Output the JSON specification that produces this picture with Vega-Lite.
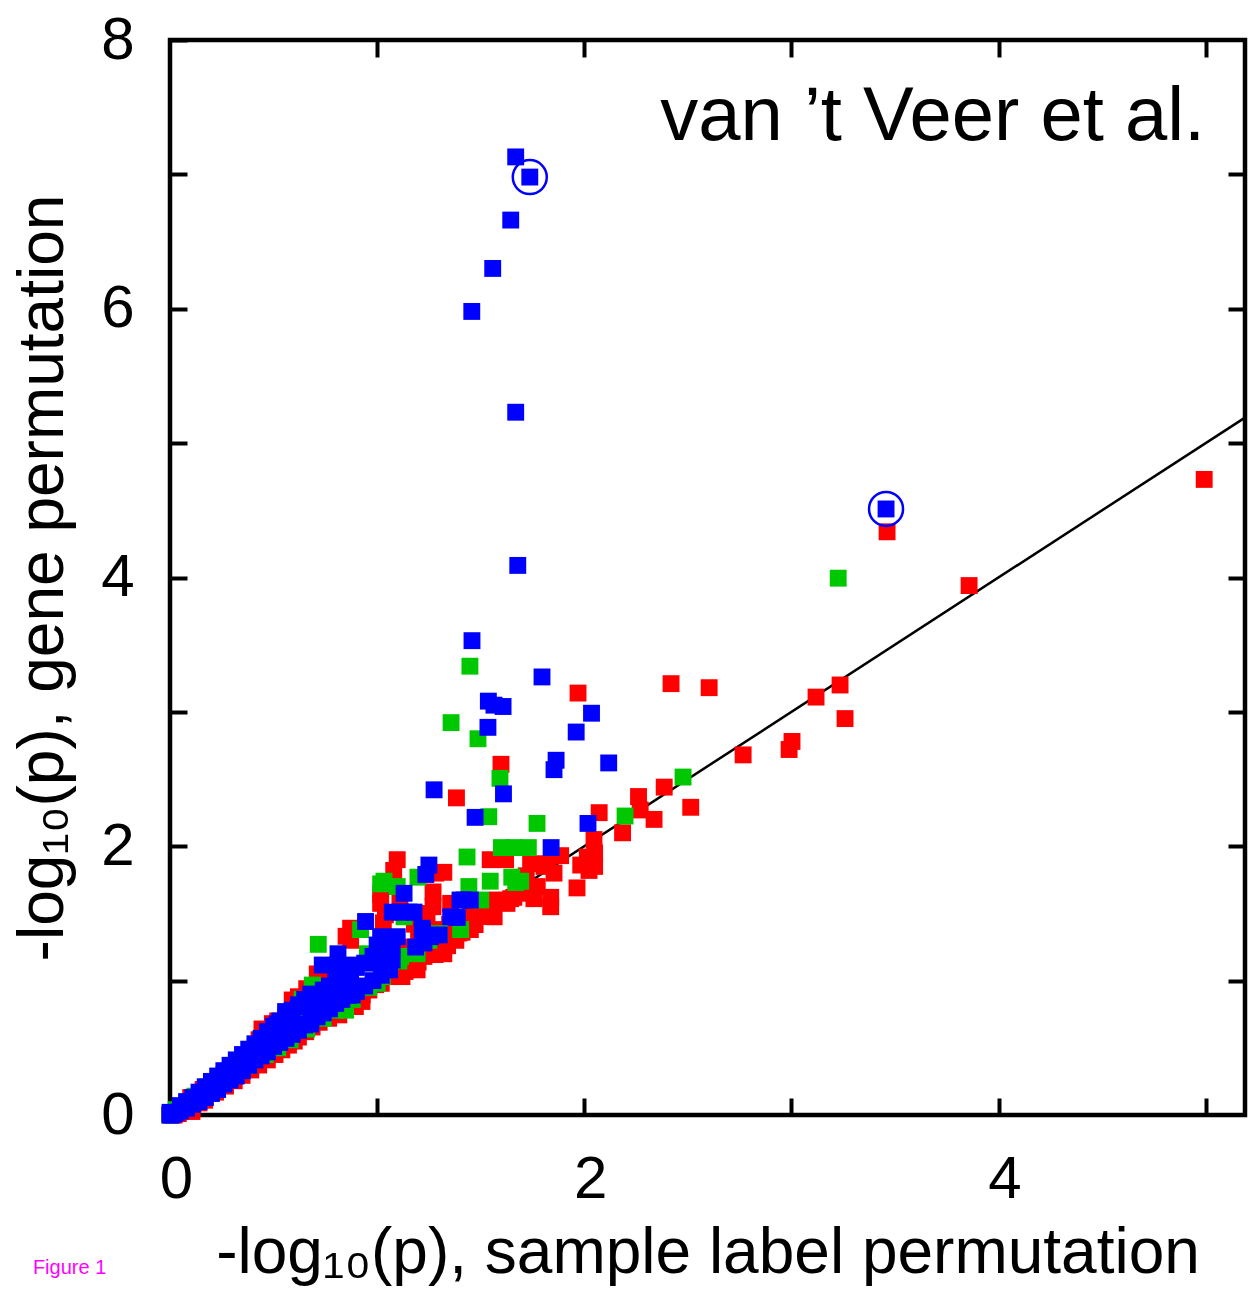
{
  "$schema": "https://vega.github.io/schema/vega-lite/v6.json",
  "autosize": {"type": "none"},
  "padding": {"left": 170, "top": 40, "right": 3, "bottom": 179},
  "width": 1075,
  "height": 1075,
  "background": "white",
  "config": {
    "view": {"stroke": "black", "strokeWidth": 4.5},
    "axis": {"grid": false, "domain": false, "labelFont": "Liberation Sans", "titleFont": "Liberation Sans", "labelColor": "black", "titleColor": "black", "tickColor": "black", "titleFontWeight": "normal"}
  },
  "datasets": {
    "pts": [
      {"x":0,"y":0,"set":"a"},{"x":0.02,"y":0,"set":"a"},{"x":0.04,"y":0.01,"set":"a"},{"x":0.06,"y":0.03,"set":"a"},{"x":0.08,"y":0.04,"set":"a"},{"x":0.106,"y":0.05,"set":"a"},{"x":0.106,"y":0.026,"set":"a"},{"x":0.14,"y":0.09,"set":"a"},{"x":0.167,"y":0.11,"set":"a"},{"x":0.171,"y":0.13,"set":"a"},{"x":0.22,"y":0.17,"set":"a"},{"x":0.268,"y":0.215,"set":"a"},{"x":0.31,"y":0.255,"set":"a"},{"x":0.348,"y":0.295,"set":"a"},{"x":0.39,"y":0.335,"set":"a"},{"x":0.428,"y":0.372,"set":"a"},{"x":0.47,"y":0.41,"set":"a"},{"x":0.507,"y":0.45,"set":"a"},{"x":0.54,"y":0.485,"set":"a"},{"x":0.572,"y":0.52,"set":"a"},{"x":0.6,"y":0.55,"set":"a"},{"x":0.62,"y":0.58,"set":"a"},{"x":0.655,"y":0.62,"set":"a"},{"x":0.686,"y":0.655,"set":"a"},{"x":0.72,"y":0.69,"set":"a"},{"x":0.766,"y":0.72,"set":"a"},{"x":0.8,"y":0.76,"set":"a"},{"x":0.815,"y":0.745,"set":"a"},{"x":0.83,"y":0.795,"set":"a"},{"x":0.88,"y":0.85,"set":"a"},{"x":0.895,"y":0.807,"set":"a"},{"x":0.928,"y":0.895,"set":"a"},{"x":0.927,"y":0.845,"set":"a"},{"x":0.96,"y":0.93,"set":"a"},{"x":0.993,"y":0.97,"set":"a"},{"x":1.02,"y":0.98,"set":"a"},{"x":1.056,"y":1.03,"set":"a"},{"x":1.12,"y":1.03,"set":"a"},{"x":1.135,"y":1.068,"set":"a"},{"x":1.193,"y":1.08,"set":"a"},{"x":1.198,"y":1.138,"set":"a"},{"x":1.162,"y":1.13,"set":"a"},{"x":1.226,"y":1.18,"set":"a"},{"x":1.258,"y":1.2,"set":"a"},{"x":1.28,"y":1.194,"set":"a"},{"x":1.29,"y":1.23,"set":"a"},{"x":1.322,"y":1.2,"set":"a"},{"x":1.32,"y":1.28,"set":"a"},{"x":1.315,"y":1.25,"set":"a"},{"x":1.315,"y":1.35,"set":"a"},{"x":1.34,"y":1.26,"set":"a"},{"x":1.38,"y":1.3,"set":"a"},{"x":1.394,"y":1.354,"set":"a"},{"x":1.41,"y":1.36,"set":"a"},{"x":1.45,"y":1.38,"set":"a"},{"x":1.473,"y":1.417,"set":"a"},{"x":1.507,"y":1.477,"set":"a"},{"x":1.565,"y":1.475,"set":"a"},
      {"x":0.1,"y":0.13,"set":"a"},{"x":0.16,"y":0.19,"set":"a"},{"x":0.24,"y":0.27,"set":"a"},{"x":0.3,"y":0.35,"set":"a"},{"x":0.365,"y":0.41,"set":"a"},{"x":0.43,"y":0.56,"set":"a"},{"x":0.444,"y":0.64,"set":"a"},{"x":0.47,"y":0.6,"set":"a"},{"x":0.494,"y":0.68,"set":"a"},{"x":0.52,"y":0.7,"set":"a"},{"x":0.59,"y":0.856,"set":"a"},{"x":0.62,"y":0.88,"set":"a"},{"x":0.66,"y":0.94,"set":"a"},{"x":0.711,"y":1.05,"set":"a"},{"x":0.76,"y":1.05,"set":"a"},{"x":0.85,"y":1.33,"set":"a"},{"x":0.872,"y":1.3,"set":"a"},{"x":0.872,"y":1.39,"set":"a"},{"x":1.017,"y":1.644,"set":"a"},{"x":1.017,"y":1.575,"set":"a"},{"x":1.03,"y":1.43,"set":"a"},{"x":1.04,"y":1.49,"set":"a"},{"x":1.05,"y":1.12,"set":"a"},{"x":1.08,"y":1.82,"set":"a"},{"x":1.097,"y":1.9,"set":"a"},{"x":1.1,"y":1.2,"set":"a"},{"x":1.11,"y":1.6,"set":"a"},{"x":1.15,"y":1.25,"set":"a"},{"x":1.18,"y":1.42,"set":"a"},{"x":1.2,"y":1.3,"set":"a"},{"x":1.22,"y":1.5,"set":"a"},{"x":1.24,"y":1.45,"set":"a"},{"x":1.24,"y":1.475,"set":"a"},{"x":1.25,"y":1.32,"set":"a"},{"x":1.27,"y":1.55,"set":"a"},{"x":1.27,"y":1.66,"set":"a"},{"x":1.3,"y":1.38,"set":"a"},{"x":1.322,"y":1.806,"set":"a"},{"x":1.283,"y":1.8,"set":"a"},{"x":1.35,"y":1.42,"set":"a"},{"x":1.355,"y":1.575,"set":"a"},{"x":1.383,"y":2.36,"set":"a"},{"x":1.4,"y":1.47,"set":"a"},{"x":1.45,"y":1.5,"set":"a"},{"x":1.46,"y":1.44,"set":"a"},{"x":1.5,"y":1.55,"set":"a"},{"x":1.52,"y":1.52,"set":"a"},{"x":1.546,"y":1.9,"set":"a"},{"x":1.548,"y":1.5,"set":"a"},{"x":1.56,"y":1.56,"set":"a"},{"x":1.58,"y":1.6,"set":"a"},{"x":1.598,"y":2.61,"set":"a"},{"x":1.6,"y":1.58,"set":"a"},{"x":1.62,"y":1.9,"set":"a"},{"x":1.627,"y":1.575,"set":"a"},{"x":1.645,"y":1.61,"set":"a"},{"x":1.66,"y":1.62,"set":"a"},{"x":1.68,"y":1.72,"set":"a"},{"x":1.7,"y":1.65,"set":"a"},{"x":1.72,"y":1.78,"set":"a"},{"x":1.741,"y":1.87,"set":"a"},{"x":1.757,"y":1.61,"set":"a"},{"x":1.773,"y":1.7,"set":"a"},{"x":1.806,"y":1.85,"set":"a"},{"x":1.822,"y":1.87,"set":"a"},{"x":1.838,"y":1.55,"set":"a"},{"x":1.838,"y":1.62,"set":"a"},{"x":1.854,"y":1.8,"set":"a"},{"x":1.886,"y":1.93,"set":"a"},{"x":1.965,"y":1.69,"set":"a"},{"x":1.97,"y":3.14,"set":"a"},{"x":1.983,"y":1.86,"set":"a"},{"x":2.015,"y":1.92,"set":"a"},{"x":2.023,"y":1.82,"set":"a"},{"x":2.047,"y":2.05,"set":"a"},{"x":2.05,"y":1.95,"set":"a"},{"x":2.05,"y":1.85,"set":"a"},{"x":2.072,"y":2.25,"set":"a"},{"x":2.185,"y":2.1,"set":"a"},{"x":2.262,"y":2.37,"set":"a"},{"x":2.27,"y":2.27,"set":"a"},{"x":2.337,"y":2.2,"set":"a"},{"x":2.386,"y":2.44,"set":"a"},{"x":2.419,"y":3.21,"set":"a"},{"x":2.514,"y":2.29,"set":"a"},{"x":2.603,"y":3.18,"set":"a"},{"x":2.767,"y":2.68,"set":"a"},{"x":2.989,"y":2.72,"set":"a"},{"x":3.003,"y":2.78,"set":"a"},{"x":3.119,"y":3.11,"set":"a"},{"x":3.235,"y":3.2,"set":"a"},{"x":3.259,"y":2.95,"set":"a"},{"x":3.462,"y":4.34,"set":"a"},{"x":3.858,"y":3.94,"set":"a"},{"x":4.993,"y":4.73,"set":"a"},
      {"x":0,"y":0,"set":"b"},{"x":0.03,"y":0.04,"set":"b"},{"x":0.06,"y":0.06,"set":"b"},{"x":0.09,"y":0.09,"set":"b"},{"x":0.12,"y":0.14,"set":"b"},{"x":0.15,"y":0.13,"set":"b"},{"x":0.18,"y":0.21,"set":"b"},{"x":0.22,"y":0.21,"set":"b"},{"x":0.26,"y":0.3,"set":"b"},{"x":0.3,"y":0.29,"set":"b"},{"x":0.34,"y":0.39,"set":"b"},{"x":0.38,"y":0.37,"set":"b"},{"x":0.42,"y":0.47,"set":"b"},{"x":0.46,"y":0.45,"set":"b"},{"x":0.5,"y":0.56,"set":"b"},{"x":0.52,"y":0.5,"set":"b"},{"x":0.56,"y":0.64,"set":"b"},{"x":0.58,"y":0.56,"set":"b"},{"x":0.62,"y":0.72,"set":"b"},{"x":0.638,"y":0.861,"set":"b"},{"x":0.66,"y":0.64,"set":"b"},{"x":0.687,"y":0.967,"set":"b"},{"x":0.7,"y":0.8,"set":"b"},{"x":0.716,"y":1.27,"set":"b"},{"x":0.74,"y":0.72,"set":"b"},{"x":0.78,"y":0.88,"set":"b"},{"x":0.8,"y":0.78,"set":"b"},{"x":0.848,"y":0.78,"set":"b"},{"x":0.86,"y":0.95,"set":"b"},{"x":0.88,"y":0.86,"set":"b"},{"x":0.92,"y":1.38,"set":"b"},{"x":0.953,"y":1.2,"set":"b"},{"x":0.96,"y":0.95,"set":"b"},{"x":1.0,"y":0.98,"set":"b"},{"x":1.025,"y":1.03,"set":"b"},{"x":1.033,"y":1.74,"set":"b"},{"x":1.017,"y":1.72,"set":"b"},{"x":1.097,"y":1.7,"set":"b"},{"x":1.105,"y":1.146,"set":"b"},{"x":1.113,"y":1.18,"set":"b"},{"x":1.13,"y":1.475,"set":"b"},{"x":1.186,"y":1.22,"set":"b"},{"x":1.193,"y":1.2,"set":"b"},{"x":1.197,"y":1.77,"set":"b"},{"x":1.25,"y":1.3,"set":"b"},{"x":1.3,"y":1.35,"set":"b"},{"x":1.357,"y":2.92,"set":"b"},{"x":1.403,"y":1.38,"set":"b"},{"x":1.434,"y":1.92,"set":"b"},{"x":1.443,"y":1.7,"set":"b"},{"x":1.448,"y":3.34,"set":"b"},{"x":1.487,"y":2.8,"set":"b"},{"x":1.5,"y":1.6,"set":"b"},{"x":1.539,"y":2.22,"set":"b"},{"x":1.546,"y":1.74,"set":"b"},{"x":1.593,"y":2.505,"set":"b"},{"x":1.6,"y":1.99,"set":"b"},{"x":1.65,"y":1.77,"set":"b"},{"x":1.66,"y":1.99,"set":"b"},{"x":1.669,"y":1.73,"set":"b"},{"x":1.693,"y":1.74,"set":"b"},{"x":1.73,"y":1.99,"set":"b"},{"x":1.772,"y":2.17,"set":"b"},{"x":2.197,"y":2.225,"set":"b"},{"x":2.477,"y":2.515,"set":"b"},{"x":3.226,"y":3.995,"set":"b"},
      {"x":0,"y":0,"set":"c"},{"x":0.01,"y":0,"set":"c"},{"x":0.02,"y":0.01,"set":"c"},{"x":0,"y":0.02,"set":"c"},{"x":0.03,"y":0.02,"set":"c"},{"x":0.05,"y":0.03,"set":"c"},{"x":0.05,"y":0.07,"set":"c"},{"x":0.08,"y":0.05,"set":"c"},{"x":0.08,"y":0.1,"set":"c"},{"x":0.11,"y":0.08,"set":"c"},{"x":0.11,"y":0.13,"set":"c"},{"x":0.14,"y":0.1,"set":"c"},{"x":0.14,"y":0.17,"set":"c"},{"x":0.17,"y":0.13,"set":"c"},{"x":0.17,"y":0.21,"set":"c"},{"x":0.2,"y":0.16,"set":"c"},{"x":0.2,"y":0.25,"set":"c"},{"x":0.23,"y":0.19,"set":"c"},{"x":0.23,"y":0.29,"set":"c"},{"x":0.26,"y":0.23,"set":"c"},{"x":0.26,"y":0.33,"set":"c"},{"x":0.29,"y":0.26,"set":"c"},{"x":0.29,"y":0.37,"set":"c"},{"x":0.32,"y":0.29,"set":"c"},{"x":0.32,"y":0.41,"set":"c"},{"x":0.35,"y":0.33,"set":"c"},{"x":0.35,"y":0.45,"set":"c"},{"x":0.38,"y":0.37,"set":"c"},{"x":0.38,"y":0.49,"set":"c"},{"x":0.41,"y":0.41,"set":"c"},{"x":0.41,"y":0.53,"set":"c"},{"x":0.44,"y":0.44,"set":"c"},{"x":0.44,"y":0.57,"set":"c"},{"x":0.47,"y":0.47,"set":"c"},{"x":0.47,"y":0.62,"set":"c"},{"x":0.5,"y":0.51,"set":"c"},{"x":0.5,"y":0.66,"set":"c"},{"x":0.53,"y":0.54,"set":"c"},{"x":0.53,"y":0.7,"set":"c"},{"x":0.56,"y":0.57,"set":"c"},{"x":0.56,"y":0.74,"set":"c"},{"x":0.59,"y":0.6,"set":"c"},{"x":0.59,"y":0.78,"set":"c"},{"x":0.62,"y":0.63,"set":"c"},{"x":0.62,"y":0.82,"set":"c"},{"x":0.65,"y":0.67,"set":"c"},{"x":0.65,"y":0.86,"set":"c"},{"x":0.68,"y":0.7,"set":"c"},{"x":0.68,"y":0.9,"set":"c"},{"x":0.71,"y":0.73,"set":"c"},{"x":0.71,"y":0.88,"set":"c"},{"x":0.74,"y":0.76,"set":"c"},{"x":0.74,"y":0.93,"set":"c"},{"x":0.77,"y":0.79,"set":"c"},{"x":0.77,"y":0.96,"set":"c"},{"x":0.8,"y":0.83,"set":"c"},{"x":0.8,"y":1.0,"set":"c"},{"x":0.83,"y":0.86,"set":"c"},{"x":0.83,"y":1.04,"set":"c"},{"x":0.86,"y":0.89,"set":"c"},{"x":0.86,"y":1.08,"set":"c"},{"x":0.9,"y":0.92,"set":"c"},{"x":0.9,"y":1.1,"set":"c"},{"x":0.94,"y":0.96,"set":"c"},{"x":0.94,"y":1.13,"set":"c"},{"x":0.98,"y":1.0,"set":"c"},{"x":0.98,"y":1.18,"set":"c"},{"x":1.02,"y":1.04,"set":"c"},{"x":1.02,"y":1.15,"set":"c"},{"x":1.06,"y":1.08,"set":"c"},{"x":1.06,"y":1.22,"set":"c"},
      {"x":0.518,"y":0.677,"set":"c"},{"x":0.598,"y":0.677,"set":"c"},{"x":0.679,"y":0.677,"set":"c"},{"x":0.558,"y":0.77,"set":"c"},{"x":0.66,"y":0.806,"set":"c"},{"x":0.735,"y":0.806,"set":"c"},{"x":0.719,"y":0.893,"set":"c"},{"x":0.8,"y":0.893,"set":"c"},{"x":0.88,"y":0.893,"set":"c"},{"x":0.8,"y":0.955,"set":"c"},{"x":0.88,"y":0.955,"set":"c"},{"x":0.872,"y":1.04,"set":"c"},{"x":0.735,"y":1.116,"set":"c"},{"x":0.808,"y":1.116,"set":"c"},{"x":0.872,"y":1.116,"set":"c"},{"x":0.811,"y":1.2,"set":"c"},{"x":0.944,"y":1.44,"set":"c"},{"x":1.0,"y":1.265,"set":"c"},{"x":1.073,"y":1.265,"set":"c"},{"x":1.0,"y":1.153,"set":"c"},{"x":1.073,"y":1.153,"set":"c"},{"x":1.017,"y":1.327,"set":"c"},{"x":1.097,"y":1.327,"set":"c"},{"x":1.017,"y":1.2,"set":"c"},{"x":1.186,"y":1.25,"set":"c"},{"x":0.896,"y":1.1,"set":"c"},{"x":1.025,"y":1.15,"set":"c"},{"x":1.218,"y":1.39,"set":"c"},{"x":1.3,"y":1.34,"set":"c"},{"x":1.226,"y":1.28,"set":"c"},{"x":1.218,"y":1.376,"set":"c"},{"x":1.258,"y":1.327,"set":"c"},{"x":1.355,"y":1.475,"set":"c"},{"x":1.073,"y":1.51,"set":"c"},{"x":1.113,"y":1.51,"set":"c"},{"x":1.154,"y":1.51,"set":"c"},{"x":1.178,"y":1.51,"set":"c"},{"x":1.13,"y":1.65,"set":"c"},{"x":1.235,"y":1.79,"set":"c"},{"x":1.25,"y":1.86,"set":"c"},{"x":1.275,"y":2.42,"set":"c"},{"x":1.387,"y":1.47,"set":"c"},{"x":1.4,"y":1.6,"set":"c"},{"x":1.42,"y":1.6,"set":"c"},{"x":1.45,"y":1.6,"set":"c"},{"x":1.458,"y":3.53,"set":"c"},{"x":1.473,"y":2.215,"set":"c"},{"x":1.457,"y":5.98,"set":"c"},{"x":1.535,"y":2.885,"set":"c"},{"x":1.537,"y":3.08,"set":"c"},{"x":1.558,"y":6.3,"set":"c"},{"x":1.564,"y":3.05,"set":"c"},{"x":1.608,"y":3.04,"set":"c"},{"x":1.61,"y":2.39,"set":"c"},{"x":1.645,"y":6.66,"set":"c"},{"x":1.669,"y":7.13,"set":"c"},{"x":1.669,"y":5.23,"set":"c"},{"x":1.679,"y":4.09,"set":"c"},{"x":1.737,"y":6.98,"set":"c"},{"x":1.796,"y":3.26,"set":"c"},{"x":1.84,"y":1.99,"set":"c"},{"x":1.854,"y":2.57,"set":"c"},{"x":1.864,"y":2.64,"set":"c"},{"x":1.961,"y":2.85,"set":"c"},{"x":2.018,"y":2.17,"set":"c"},{"x":2.035,"y":2.99,"set":"c"},{"x":2.118,"y":2.62,"set":"c"},{"x":3.457,"y":4.51,"set":"c"}
    ],
    "diag": [{"x":0,"y":0},{"x":5.19,"y":5.19}],
    "ring": [{"x":1.737,"y":6.98},{"x":3.457,"y":4.51}],
    "note": [{"x":4.998,"y":7.255,"text":"van ’t Veer et al."}],
    "fig": [{"x":-0.662,"y":-1.183,"text":"Figure 1"}]
  },
  "resolve": {"axis": {"x": "independent", "y": "independent"}},
  "layer": [
    {
      "data": {"name": "diag"},
      "mark": {"type": "line", "color": "black", "strokeWidth": 2.5},
      "encoding": {
        "x": {"field": "x", "type": "quantitative", "scale": {"domain": [0, 5.19], "nice": false, "zero": false},
              "axis": {"orient": "top", "values": [1,2,3,4,5], "labels": false, "title": null, "tickSize": -17, "tickWidth": 4}},
        "y": {"field": "y", "type": "quantitative", "scale": {"domain": [0, 8], "nice": false, "zero": false},
              "axis": {"orient": "right", "values": [1,2,3,4,5,6,7], "labels": false, "title": null, "tickSize": -17, "tickWidth": 4}}
      }
    },
    {
      "data": {"name": "pts"},
      "mark": {"type": "point", "shape": "square", "filled": true, "opacity": 1, "size": 285, "strokeWidth": 0},
      "encoding": {
        "x": {"field": "x", "type": "quantitative", "scale": {"domain": [0, 5.19], "nice": false, "zero": false},
              "axis": {"orient": "bottom", "values": [0,1,2,3,4,5], "labelExpr": "datum.value % 2 == 0 ? datum.label : ''",
                       "labelFlush": false, "labelOverlap": false, "labelFontSize": 60, "labelPadding": 52, "labelOffset": 6,
                       "tickSize": -17, "tickWidth": 4,
                       "title": "-log₁₀(p), sample label permutation", "titleFontSize": 64, "titleY": 157, "titleBaseline": "alphabetic"}},
        "y": {"field": "y", "type": "quantitative", "scale": {"domain": [0, 8], "nice": false, "zero": false},
              "axis": {"orient": "left", "values": [0,1,2,3,4,5,6,7,8], "labelExpr": "datum.value % 2 == 0 ? datum.label : ''",
                       "labelFlush": false, "labelOverlap": false, "labelFontSize": 60, "labelPadding": 53,
                       "tickSize": -17, "tickWidth": 4,
                       "title": "-log₁₀(p), gene permutation", "titleFontSize": 64, "titleX": -108, "titleBaseline": "alphabetic"}},
        "color": {"field": "set", "type": "nominal", "scale": {"domain": ["a","b","c"], "range": ["#ff0000","#00c800","#0000ff"]}, "legend": null}
      }
    },
    {
      "data": {"name": "ring"},
      "mark": {"type": "point", "shape": "circle", "filled": false, "opacity": 1, "size": 1156, "strokeWidth": 2.5, "color": "#0000ff"},
      "encoding": {
        "x": {"field": "x", "type": "quantitative", "scale": {"domain": [0, 5.19], "nice": false, "zero": false}, "axis": null},
        "y": {"field": "y", "type": "quantitative", "scale": {"domain": [0, 8], "nice": false, "zero": false}, "axis": null}
      }
    },
    {
      "data": {"name": "note"},
      "mark": {"type": "text", "align": "right", "baseline": "alphabetic", "font": "Liberation Sans", "fontSize": 76, "color": "black"},
      "encoding": {
        "x": {"field": "x", "type": "quantitative", "axis": null},
        "y": {"field": "y", "type": "quantitative", "axis": null},
        "text": {"field": "text"}
      }
    },
    {
      "data": {"name": "fig"},
      "mark": {"type": "text", "align": "left", "baseline": "alphabetic", "font": "Liberation Sans", "fontSize": 20, "color": "#ff00ff"},
      "encoding": {
        "x": {"field": "x", "type": "quantitative", "axis": null},
        "y": {"field": "y", "type": "quantitative", "axis": null},
        "text": {"field": "text"}
      }
    }
  ]
}
